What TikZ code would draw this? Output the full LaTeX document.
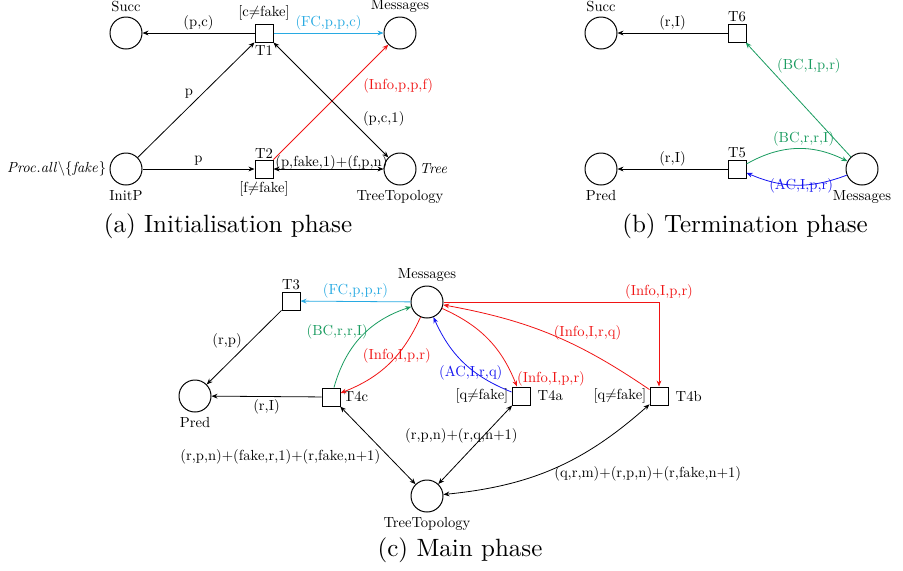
\documentclass[tikz,border=0pt]{standalone}
\usetikzlibrary{arrows.meta,positioning}
\definecolor{mycyan}{RGB}{40,170,226}
\definecolor{mygreen}{RGB}{25,155,95}
\definecolor{myblue}{RGB}{20,20,240}
\definecolor{myred}{RGB}{240,20,20}
\begin{document}
\begin{tikzpicture}[x=0.5pt,y=-0.5pt,
  lbl/.style={font=\fontsize{10}{12}\selectfont, scale=0.73, inner sep=2pt},
  place/.style={circle, draw, line width=0.5pt, minimum size=16pt, inner sep=0pt},
  trans/.style={rectangle, draw, line width=0.5pt, minimum size=9pt, inner sep=0pt},
  arcline/.style={-{Stealth[length=3pt,width=2.4pt]}, line width=0.4pt},
  darcline/.style={{Stealth[length=3pt,width=2.4pt]}-{Stealth[length=3pt,width=2.4pt]}, line width=0.4pt},
  captext/.style={font=\fontsize{10}{12}\selectfont, scale=1.25, inner sep=0pt}]
\useasboundingbox (0,0) rectangle (903,570);

% ---------- (a) ----------
\node[place] (SuccA) at (126,33) {};
\node[lbl, above=0.5pt of SuccA] {Succ};
\node[trans] (T1) at (264,33) {};
\node[lbl, above=0pt of T1] {[c$\neq$fake]};
\node[lbl, below=0pt of T1] {T1};
\node[place] (MsgA) at (400,33) {};
\node[lbl, above=0.5pt of MsgA] {Messages};
\node[place] (InitP) at (126,169) {};
\node[lbl, below=1pt of InitP] {InitP};
\node[lbl, left=0pt of InitP] {$\mathit{Proc.all}\backslash\{\mathit{fake}\}$};
\node[trans] (T2) at (264,169) {};
\node[lbl, above=-1pt of T2] {T2};
\node[lbl, below=0pt of T2] {[f$\neq$fake]};
\node[place] (TreeA) at (400,169) {};
\node[lbl, below=1pt of TreeA] {TreeTopology};
\node[lbl, right=0pt of TreeA] {\textit{Tree}};

\draw[arcline] (T1) -- node[lbl, above] {(p,c)} (SuccA);
\draw[arcline, mycyan] (T1) -- node[lbl, above] {(FC,p,p,c)} (MsgA);
\draw[arcline] (InitP) -- node[lbl, above left, pos=0.5, yshift=-1pt] {p} (T1);
\draw[arcline] (InitP) -- node[lbl, above] {p} (T2);
\draw[arcline, myred] (T2) -- node[lbl, pos=0.64, right=8pt, xshift=-2pt] {(Info,p,p,f)} (MsgA);
\draw[darcline] (T1) -- node[lbl, pos=0.63, right=7pt, yshift=-2.5pt] {(p,c,1)} (TreeA);
\draw[darcline] (T2) -- node[lbl, above=-2pt, pos=0.5, xshift=2pt] {(p,fake,1)+(f,p,n)} (TreeA);

\node[captext] at (228,226) {(a) Initialisation phase};

% ---------- (b) ----------
\node[place] (SuccB) at (601,33) {};
\node[lbl, above=0.5pt of SuccB] {Succ};
\node[trans] (T6) at (737,33) {};
\node[lbl, above=-1pt of T6] {T6};
\node[place] (PredB) at (601,169) {};
\node[lbl, below=1pt of PredB] {Pred};
\node[trans] (T5) at (737,169) {};
\node[lbl, above=-1pt of T5] {T5};
\node[place] (MsgB) at (862,169) {};
\node[lbl, below=1pt of MsgB] {Messages};

\draw[arcline] (T6) -- node[lbl, above] {(r,I)} (SuccB);
\draw[arcline] (T5) -- node[lbl, above] {(r,I)} (PredB);
\draw[arcline, mygreen] (MsgB) -- node[lbl, pos=0.8, right=1.4pt, xshift=3pt] {(BC,I,p,r)} (T6);
\draw[arcline, mygreen] (T5) to[bend left=28] node[lbl, pos=0.6, above=0pt, xshift=-2pt] {(BC,r,r,I)} (MsgB);
\draw[arcline, myblue] (MsgB) to[bend left=22] node[lbl, pos=0.45, above=-5.5pt] {(AC,I,p,r)} (T5);

\node[captext] at (745,226) {(b) Termination phase};

% ---------- (c) ----------
\node[place] (MsgC) at (427,302) {};
\node[lbl, above=0.5pt of MsgC] {Messages};
\node[trans] (T3) at (291,301) {};
\node[lbl, above=-1pt of T3] {T3};
\node[place] (PredC) at (195,396) {};
\node[lbl, below=1pt of PredC] {Pred};
\node[trans] (T4c) at (331,397) {};
\node[lbl, right=0pt of T4c] {T4c};
\node[trans] (T4a) at (521,396) {};
\node[lbl, right=2pt of T4a] {T4a};
\node[lbl, left=0pt of T4a] {[q$\neq$fake]};
\node[trans] (T4b) at (659,396) {};
\node[lbl, right=2pt of T4b] {T4b};
\node[lbl, left=0pt of T4b] {[q$\neq$fake]};
\node[place] (TreeC) at (427,496) {};
\node[lbl, below=1pt of TreeC] {TreeTopology};

\draw[arcline, mycyan] (MsgC) -- node[lbl, above] {(FC,p,p,r)} (T3);
\draw[arcline] (T3) -- node[lbl, above left, pos=0.45, xshift=-2pt, yshift=-5.5pt] {(r,p)} (PredC);
\draw[arcline] (T4c) -- node[lbl, below] {(r,I)} (PredC);
\draw[arcline, mygreen] (T4c) to[bend left=28] node[lbl, pos=0.45, left=-6.6pt, yshift=6pt] {(BC,r,r,I)} (MsgC);
\draw[arcline, myred] (MsgC) to[bend left=22] node[lbl, pos=0.5, xshift=5.5pt, yshift=5.5pt] {(Info,I,p,r)} (T4c);
\draw[arcline, myblue] (T4a) to[bend left=22] node[lbl, pos=0.3, left=-12.5pt, yshift=2pt] {(AC,I,r,q)} (MsgC);
\draw[arcline, myred] (MsgC) to[bend left=22] node[lbl, pos=0.88, right=1.4pt, yshift=-4pt] {(Info,I,p,r)} (T4a);
\draw[arcline, myred] (MsgC) -| node[lbl, pos=0.5, above] {(Info,I,p,r)} (T4b);
\draw[arcline, myred] (T4b) to[bend right=12] node[lbl, pos=0.31, above=4pt] {(Info,I,r,q)} (MsgC);
\draw[darcline] (T4c) -- node[lbl, pos=0.6, left=1pt, yshift=-2.5pt] {(r,p,n)+(fake,r,1)+(r,fake,n+1)} (TreeC);
\draw[darcline] (T4a) -- node[lbl, pos=0.39, xshift=-15pt] {(r,p,n)+(r,q,n+1)} (TreeC);
\draw[darcline] (T4b) to[bend left=18] node[lbl, pos=0.45, below right=0pt, xshift=-9pt] {(q,r,m)+(r,p,n)+(r,fake,n+1)} (TreeC);

\node[captext] at (460,550) {(c) Main phase};
\end{tikzpicture}
\end{document}
